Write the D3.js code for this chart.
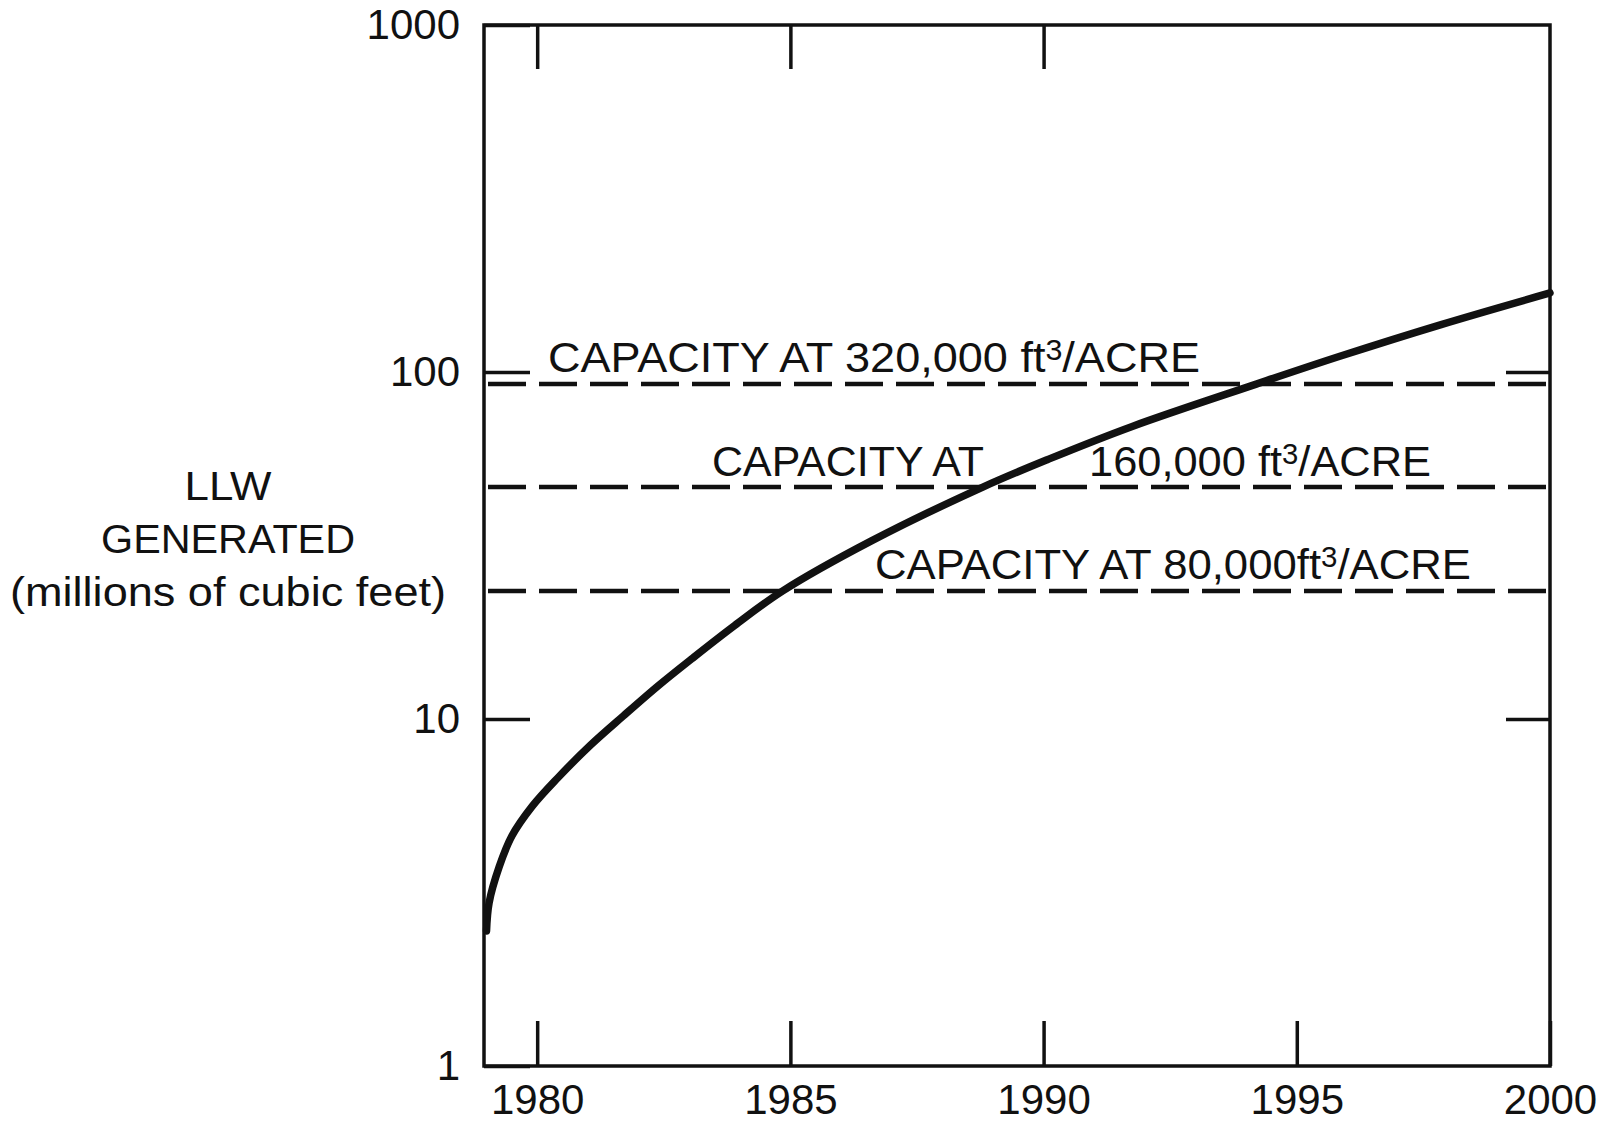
<!DOCTYPE html>
<html lang="en">
<head>
<meta charset="UTF-8">
<script src="https://d3js.org/d3.v7.min.js"></script>
<style>
  html, body { margin: 0; padding: 0; background: #fff; }
  svg { display: block; }
  text { font-family: "Liberation Sans", Arial, sans-serif; fill: #111; }
</style>
</head>
<body>
<div id="chart"></div>
<script>
// LLW generated curve
const years = [1979.0, 1979.05, 1979.25, 1979.5, 1979.9, 1980.4, 1981.05, 1981.7, 1982.4, 1983.05,
               1983.9, 1984.85, 1986.6, 1988.8, 1990.1, 1991.75, 1994.2, 1995.85, 1997.85, 2000];
const llw = [2.45, 2.95, 3.75, 4.6, 5.6, 6.75, 8.4, 10.2, 12.5, 14.9,
             18.6, 23.4, 32.6, 46.6, 56.1, 69.7, 92.3, 111, 137, 169];

// capacity lines (millions of cubic feet)
const capacityValues = [92.3, 46.6, 23.4];
const capacityRates = ["320,000", "160,000", "80,000"];

const xTickValues = [1980, 1985, 1990, 1995, 2000];
const xTopTickValues = [1980, 1985, 1990];
const yTickValues = [1, 10, 100, 1000];
const yRightTickValues = [10, 100];

const W = 1611, H = 1123;
const plotLeft = 484, plotRight = 1550, plotTop = 25, plotBottom = 1066;
const ink = "#111";

const svg = d3.select("#chart").append("svg")
    .attr("width", W)
    .attr("height", H);

const x = d3.scaleLinear().domain([1978.95, 2000]).range([plotLeft, plotRight]);
const y = d3.scaleLog().domain([1, 1000]).range([plotBottom, plotTop]);

// frame
svg.append("rect")
    .attr("x", plotLeft).attr("y", plotTop)
    .attr("width", plotRight - plotLeft).attr("height", plotBottom - plotTop)
    .attr("fill", "none").attr("stroke", ink).attr("stroke-width", 3.5);

function styleAxis(g) {
    g.select(".domain").remove();
    g.selectAll(".tick line").attr("stroke", ink).attr("stroke-width", 3.5);
    g.selectAll(".tick text").attr("fill", ink).attr("font-size", 42)
        .attr("font-family", "Liberation Sans, Arial, sans-serif");
}

// bottom axis
svg.append("g")
    .attr("transform", `translate(0,${plotBottom})`)
    .call(d3.axisBottom(x).tickValues(xTickValues).tickFormat(d3.format("d"))
        .tickSize(-45).tickPadding(18))
    .call(styleAxis);

// top ticks
svg.append("g")
    .attr("transform", `translate(0,${plotTop})`)
    .call(d3.axisTop(x).tickValues(xTopTickValues).tickFormat("").tickSize(-44))
    .call(styleAxis);

// left axis
svg.append("g")
    .attr("transform", `translate(${plotLeft},0)`)
    .call(d3.axisLeft(y).tickValues(yTickValues).tickFormat(d3.format("d"))
        .tickSize(-46).tickPadding(24))
    .call(styleAxis);

// right ticks
svg.append("g")
    .attr("transform", `translate(${plotRight},0)`)
    .call(d3.axisRight(y).tickValues(yRightTickValues).tickFormat("").tickSize(-44))
    .call(styleAxis);

// capacity lines
svg.append("g").selectAll("line")
    .data(capacityValues)
    .join("line")
    .attr("x1", plotLeft + 4).attr("x2", plotRight)
    .attr("y1", d => y(d)).attr("y2", d => y(d))
    .attr("stroke", ink)
    .attr("stroke-width", 4.5)
    .attr("stroke-dasharray", "38 13");

// capacity labels, "ft3" drawn with a raised smaller 3
const labelFont = 43;
function capLabel(parts, x0, base, len) {
    const t = svg.append("text")
        .attr("x", x0).attr("y", base)
        .attr("font-size", labelFont)
        .attr("textLength", len)
        .attr("lengthAdjust", "spacingAndGlyphs");
    t.append("tspan").text(parts[0]);
    if (parts.length > 1) {
        t.append("tspan").attr("font-size", 29).attr("dy", -12).text("3");
        t.append("tspan").attr("dy", 12).text(parts[1]);
    }
}
capLabel([`CAPACITY  AT  ${capacityRates[0]} ft`, "/ACRE"], 548, y(capacityValues[0]) - 12, 652);
capLabel(["CAPACITY  AT"], 712, y(capacityValues[1]) - 11, 272);
capLabel([`${capacityRates[1]} ft`, "/ACRE"], 1089, y(capacityValues[1]) - 11, 342);
capLabel([`CAPACITY  AT  ${capacityRates[2]}ft`, "/ACRE"], 875, y(capacityValues[2]) - 12, 596);

// LLW curve
const line = d3.line()
    .x((d, i) => x(years[i]))
    .y(d => y(d))
    .curve(d3.curveCatmullRom.alpha(0.5));

svg.append("path")
    .datum(llw)
    .attr("d", line)
    .attr("fill", "none")
    .attr("stroke", ink)
    .attr("stroke-width", 7.5)
    .attr("stroke-linecap", "round");

// y axis title
const title = ["LLW", "GENERATED", "(millions of cubic feet)"];
const titleWidths = [87, 254, 436];
svg.append("g").selectAll("text")
    .data(title)
    .join("text")
    .attr("x", 228)
    .attr("y", (d, i) => 500 + i * 53)
    .attr("text-anchor", "middle")
    .attr("font-size", 41)
    .attr("textLength", (d, i) => titleWidths[i])
    .attr("lengthAdjust", "spacingAndGlyphs")
    .text(d => d);
</script>
</body>
</html>
